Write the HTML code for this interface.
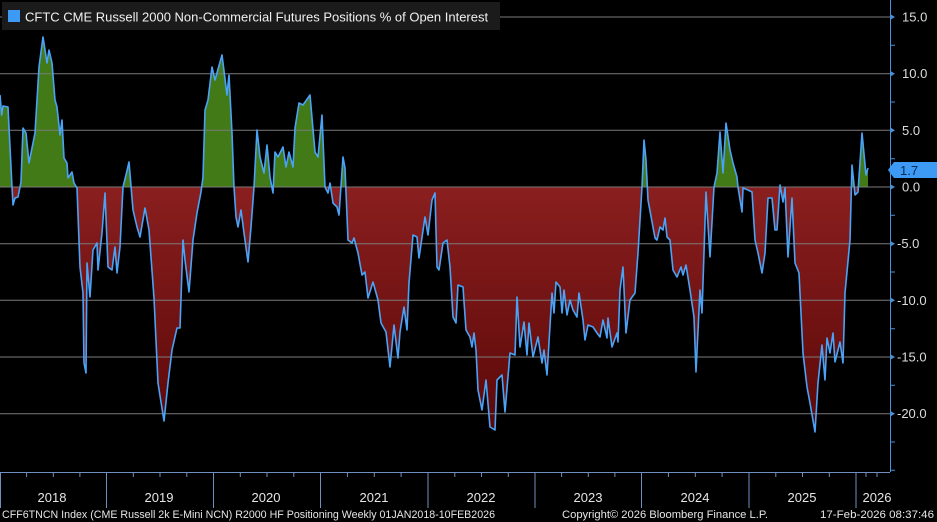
<!DOCTYPE html>
<html><head><meta charset="utf-8"><style>
html,body{margin:0;padding:0;background:#000;}
svg{display:block;font-family:"Liberation Sans",sans-serif;}
</style></head><body>
<svg width="937" height="522" viewBox="0 0 937 522" xmlns="http://www.w3.org/2000/svg">
<defs>
<linearGradient id="rg" x1="0" y1="187" x2="0" y2="430" gradientUnits="userSpaceOnUse">
<stop offset="0" stop-color="#8a1f1f"/><stop offset="1" stop-color="#5c0808"/>
</linearGradient>
<clipPath id="top"><rect x="0" y="0" width="890" height="187"/></clipPath>
<clipPath id="bot"><rect x="0" y="187" width="890" height="300"/></clipPath>
<polygon id="area" points="0,187 0,95 1.7,115 3,106 8,107 12,187 13,205 15,198 18,197 21,182 23,128 26,133 29,163 35,133 39,67 43,37 47,63 49,50 52,63 55,100 57,107 60,135 62,120 64,158 67,163 68,178 72,172 74,183 77,188 80,267 83,293 84,363 86,373 87,263 90,297 93,250 97,243 98,270 102,233 105,193 108,267 112,270 115,247 117,273 120,247 123,187 126,175 129,162 133,210 137,227 140,237 145,208 149,230 154,298 158,383 164,421 168,383 172,350 177,328 180,328 183,240 185,260 189,292 193,240 197,213 201,192 203,177 205,110 208,100 212,67 215,80 222,55 227,95 229,75 232,133 234,187 236,217 238,227 241,210 244,233 248,262 251,227 254,187 257,130 260,157 264,173 267,145 270,177 273,193 275,152 278,157 283,147 286,167 289,152 293,167 295,128 299,103 303,105 310,95 315,152 318,157 322,115 325,187 328,193 330,183 333,203 337,207 339,215 343,157 345,168 348,240 352,243 354,238 358,253 362,275 365,272 368,298 373,282 378,300 381,323 386,332 390,367 394,325 398,358 400,332 404,307 407,330 409,283 413,235 417,237 419,258 425,217 428,235 432,200 435,193 437,267 439,270 443,243 447,240 450,267 453,317 456,323 458,285 463,287 466,330 470,337 472,347 474,333 476,350 478,390 482,410 486,380 490,427 495,430 497,380 502,375 505,412 510,353 515,355 517,297 520,347 524,322 527,355 529,323 533,357 538,337 542,363 544,350 547,375 552,293 554,313 556,282 560,287 562,313 564,290 567,315 570,300 573,310 577,317 579,293 583,320 585,340 588,325 593,327 597,333 600,337 603,320 607,338 608,318 612,347 617,333 618,342 620,290 623,267 626,333 630,300 635,293 638,253 642,187 644,140 646,160 648,200 655,238 657,240 660,227 663,230 665,218 667,237 670,240 673,270 677,277 681,267 683,275 686,265 690,290 694,317 696,372 700,290 702,313 706,192 710,257 714,187 717,173 720,132 723,173 726,123 730,150 733,163 737,177 738,187 742,212 743,188 748,190 752,192 755,240 758,253 762,273 765,253 768,198 772,198 775,230 777,230 780,185 783,202 785,188 788,257 792,198 795,263 799,273 803,353 807,387 810,403 815,432 818,383 822,345 825,380 827,338 830,353 833,333 835,362 840,342 843,363 845,293 850,240 852,165 855,195 858,192 862,133 866,175 868,168 868,187"/>
</defs>
<rect width="937" height="522" fill="#000"/>
<use href="#area" fill="#437a18" clip-path="url(#top)"/>
<use href="#area" fill="url(#rg)" clip-path="url(#bot)"/>
<g stroke="#7a7a7a" stroke-width="1">
<line x1="0" y1="17" x2="890" y2="17"/><line x1="0" y1="73.7" x2="890" y2="73.7"/>
<line x1="0" y1="130.3" x2="890" y2="130.3"/><line x1="0" y1="187" x2="890" y2="187"/>
<line x1="0" y1="243.7" x2="890" y2="243.7"/><line x1="0" y1="300.3" x2="890" y2="300.3"/>
<line x1="0" y1="357" x2="890" y2="357"/><line x1="0" y1="413.7" x2="890" y2="413.7"/>
</g>
<polyline fill="none" stroke="#4aa3f7" stroke-width="1.6" stroke-linejoin="round" points="0,95 1.7,115 3,106 8,107 12,187 13,205 15,198 18,197 21,182 23,128 26,133 29,163 35,133 39,67 43,37 47,63 49,50 52,63 55,100 57,107 60,135 62,120 64,158 67,163 68,178 72,172 74,183 77,188 80,267 83,293 84,363 86,373 87,263 90,297 93,250 97,243 98,270 102,233 105,193 108,267 112,270 115,247 117,273 120,247 123,187 126,175 129,162 133,210 137,227 140,237 145,208 149,230 154,298 158,383 164,421 168,383 172,350 177,328 180,328 183,240 185,260 189,292 193,240 197,213 201,192 203,177 205,110 208,100 212,67 215,80 222,55 227,95 229,75 232,133 234,187 236,217 238,227 241,210 244,233 248,262 251,227 254,187 257,130 260,157 264,173 267,145 270,177 273,193 275,152 278,157 283,147 286,167 289,152 293,167 295,128 299,103 303,105 310,95 315,152 318,157 322,115 325,187 328,193 330,183 333,203 337,207 339,215 343,157 345,168 348,240 352,243 354,238 358,253 362,275 365,272 368,298 373,282 378,300 381,323 386,332 390,367 394,325 398,358 400,332 404,307 407,330 409,283 413,235 417,237 419,258 425,217 428,235 432,200 435,193 437,267 439,270 443,243 447,240 450,267 453,317 456,323 458,285 463,287 466,330 470,337 472,347 474,333 476,350 478,390 482,410 486,380 490,427 495,430 497,380 502,375 505,412 510,353 515,355 517,297 520,347 524,322 527,355 529,323 533,357 538,337 542,363 544,350 547,375 552,293 554,313 556,282 560,287 562,313 564,290 567,315 570,300 573,310 577,317 579,293 583,320 585,340 588,325 593,327 597,333 600,337 603,320 607,338 608,318 612,347 617,333 618,342 620,290 623,267 626,333 630,300 635,293 638,253 642,187 644,140 646,160 648,200 655,238 657,240 660,227 663,230 665,218 667,237 670,240 673,270 677,277 681,267 683,275 686,265 690,290 694,317 696,372 700,290 702,313 706,192 710,257 714,187 717,173 720,132 723,173 726,123 730,150 733,163 737,177 738,187 742,212 743,188 748,190 752,192 755,240 758,253 762,273 765,253 768,198 772,198 775,230 777,230 780,185 783,202 785,188 788,257 792,198 795,263 799,273 803,353 807,387 810,403 815,432 818,383 822,345 825,380 827,338 830,353 833,333 835,362 840,342 843,363 845,293 850,240 852,165 855,195 858,192 862,133 866,175 868,168"/>
<rect x="2" y="2" width="498" height="28" fill="#1b1b1b"/>
<rect x="8" y="10" width="12" height="12" fill="#3d9bf5"/>
<text x="25" y="21.5" font-size="13" fill="#f0f0f0">CFTC CME Russell 2000 Non-Commercial Futures Positions % of Open Interest</text>
<line x1="890.5" y1="0" x2="890.5" y2="472" stroke="#4a8fd9" stroke-width="1"/>
<g fill="#4a8fd9">
<polygon points="890,14 895,17 890,20"/><polygon points="890,70.7 895,73.7 890,76.7"/>
<polygon points="890,127.3 895,130.3 890,133.3"/><polygon points="890,184 895,187 890,190"/>
<polygon points="890,240.7 895,243.7 890,246.7"/><polygon points="890,297.3 895,300.3 890,303.3"/>
<polygon points="890,354 895,357 890,360"/><polygon points="890,410.7 895,413.7 890,416.7"/>
</g>
<path stroke="#4a8fd9" stroke-width="1" d="M890 45.3h5M890 102h5M890 158.7h5M890 215.3h5M890 272h5M890 328.7h5M890 385.3h5M890 442h5M890 470.3h5"/>
<g fill="#dcdcdc" font-size="13">
<text x="902" y="21.5">15.0</text><text x="902" y="78.2">10.0</text>
<text x="902" y="134.8">5.0</text><text x="902" y="191.5">0.0</text>
<text x="897" y="248.2">-5.0</text><text x="897" y="304.8">-10.0</text>
<text x="897" y="361.5">-15.0</text><text x="897" y="418.2">-20.0</text>
</g>
<polygon points="888,170 894,162 937,162 937,178 894,178" fill="#3d9bf5"/>
<text x="900" y="175" font-size="13" fill="#0a2a50">1.7</text>
<line x1="0" y1="472.5" x2="890" y2="472.5" stroke="#6f8fc0" stroke-width="1"/>
<path stroke="#6f8fc0" stroke-width="1" d="M0.5 472v36M106.5 472v36M213.5 472v36M320.5 472v36M428 472v36M535 472v36M641.5 472v36M749 472v36M856 472v36
M26.6 472v5M53.3 472v5M79.9 472v5M133.3 472v5M160 472v5M186.8 472v5M240.3 472v5M267 472v5M293.8 472v5M347.4 472v5M374.3 472v5M401.1 472v5M454.8 472v5M481.5 472v5M508.3 472v5M561.6 472v5M588.3 472v5M614.9 472v5M668.4 472v5M695.3 472v5M722.1 472v5M775.8 472v5M802.5 472v5M829.3 472v5M866 472v5M877 472v5"/>
<g fill="#e6e6e6" font-size="13" text-anchor="middle">
<text x="52" y="502">2018</text><text x="159" y="502">2019</text><text x="266" y="502">2020</text>
<text x="374" y="502">2021</text><text x="481" y="502">2022</text><text x="588" y="502">2023</text>
<text x="695" y="502">2024</text><text x="802" y="502">2025</text><text x="877" y="502">2026</text>
</g>
<g fill="#e6e6e6" font-size="11">
<text x="2" y="518" textLength="493" lengthAdjust="spacingAndGlyphs">CFF6TNCN Index (CME Russell 2k E-Mini NCN) R2000 HF Positioning Weekly 01JAN2018-10FEB2026</text>
<text x="562" y="518" textLength="206" lengthAdjust="spacingAndGlyphs">Copyright© 2026 Bloomberg Finance L.P.</text>
<text x="820" y="518" textLength="114" lengthAdjust="spacingAndGlyphs">17-Feb-2026 08:37:46</text>
</g>
</svg>
</body></html>
